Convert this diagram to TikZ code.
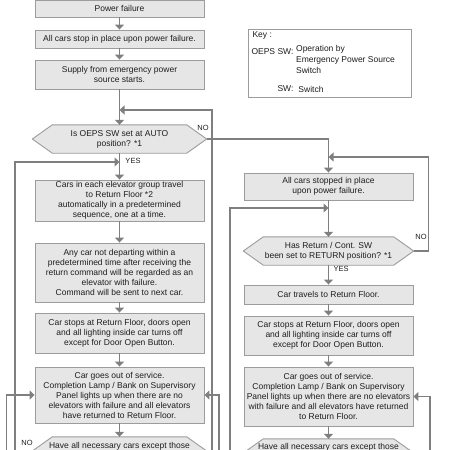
\documentclass[tikz,border=0pt]{standalone}
\usepackage{fontspec}
\setmainfont{Liberation Sans}
\usetikzlibrary{arrows.meta}
\pgfdeclarelayer{background}
\pgfsetlayers{background,main}
\definecolor{boxfill}{HTML}{E6E6E6}
\definecolor{boxedge}{HTML}{9C9C9C}
\definecolor{flowline}{HTML}{7F7F7F}
\definecolor{inktext}{HTML}{1E1E1E}

\begin{document}
\begin{tikzpicture}[x=1pt,y=-1pt,
		font=\fontsize{8.5}{10}\selectfont,
		every node/.style={text=inktext},
		box/.style={draw=boxedge,fill=boxfill,line width=0.9pt,minimum width=169pt,align=center,inner sep=1pt},
		query/.style={minimum height=28pt,align=center,inner sep=1pt},
		hexa/.style={draw=boxedge,fill=boxfill,line width=0.9pt,line join=round},
		flow/.style={draw=flowline,line width=1.3pt,-{Triangle[width=9pt,length=5pt]}},
		answer/.style={font=\fontsize{7.5}{9}\selectfont}]
			\useasboundingbox (0,0) rectangle (450,450);

			\node[box,minimum height=17pt] (pf) at (119.5,8.5) {Power failure};
			\node[box,minimum height=18pt] (stop) at (119.5,39) {All cars stop in place upon power failure.};
			\node[box,minimum height=29pt] (supply) at (119.5,74.5) {Supply from emergency power\\source starts.};
			\node[query,minimum width=174pt] (auto) at (119.5,139) {Is OEPS SW set at AUTO\\position? *1};
			\node[box,minimum height=41pt] (travel) at (119.5,200.5) {Cars in each elevator group travel\\to Return Floor *2\\automatically in a predetermined\\sequence, one at a time.};
			\node[box,minimum height=59pt] (fail) at (119.5,272.5) {Any car not departing within a\\predetermined time after receiving the\\return command will be regarded as an\\elevator with failure.\\Command will be sent to next car.};
			\node[box,minimum height=40pt] (doors) at (119.5,333) {Car stops at Return Floor, doors open\\and all lighting inside car turns off\\except for Door Open Button.};
			\node[box,minimum height=56pt] (outserv) at (119.5,395) {Car goes out of service.\\Completion Lamp / Bank on Supervisory\\Panel lights up when there are no\\elevators with failure and all elevators\\have returned to Return Floor.};
			\node[query,minimum width=174pt,text height=6pt,text depth=12pt] (allback) at (119.5,451) {Have all necessary cars except those};

			\node[box,minimum height=27pt] (stopped) at (328.5,186.5) {All cars stopped in place\\upon power failure.};
			\node[query,minimum width=170pt] (ret) at (328.5,251) {Has Return / Cont. SW\\been set to RETURN position? *1};
			\node[box,minimum height=19pt] (rtravel) at (328.5,294.5) {Car travels to Return Floor.};
			\node[box,minimum height=39pt] (rdoors) at (328.5,335.5) {Car stops at Return Floor, doors open\\and all lighting inside car turns off\\except for Door Open Button.};
			\node[box,minimum height=59pt] (rout) at (328.5,396.5) {Car goes out of service.\\Completion Lamp / Bank on Supervisory\\Panel lights up when there are no elevators\\with failure and all elevators have returned\\to Return Floor.};
			\node[query,minimum width=170pt,text height=6pt,text depth=14pt] (rback) at (328.5,453) {Have all necessary cars except those};

			\begin{pgfonlayer}{background}
				\foreach \q in {auto,allback,ret,rback}
					\draw[hexa] ([xshift=20pt]\q.north west) -- ([xshift=-20pt]\q.north east) -- (\q.east)
						-- ([xshift=-20pt]\q.south east) -- ([xshift=20pt]\q.south west) -- (\q.west) -- cycle;
			\end{pgfonlayer}

			\node[draw=boxedge,fill=white,line width=0.9pt,minimum width=163pt,minimum height=68pt] (key) at (329.5,63) {};
			\node[anchor=west] (keyhead) at (249,35) {Key :};
			\node[anchor=west] (oeps) at (248,52) {OEPS SW:};
			\node[anchor=north west,align=left,inner sep=0pt,font=\fontsize{8.5}{11}\selectfont] (oepstext) at ([xshift=-1pt]oeps.north east) {Operation by\\Emergency Power Source\\Switch};
			\node[anchor=east] (swkey) at (oeps.east |- 0,89) {SW:};
			\node[anchor=west] (swtext) at ([xshift=-2pt]swkey.east) {Switch};

			\draw[flow] (pf) -- (stop);
			\draw[flow] (stop) -- (supply);
			\draw[flow] (supply) -- (auto);
			\draw[flow] (auto) -- (travel);
			\draw[flow] (travel) -- (fail);
			\draw[flow] (fail) -- (doors);
			\draw[flow] (doors) -- (outserv);
			\draw[flow] (outserv) -- (allback);
			\draw[flow] (auto.east) -| (stopped.north);
			\node[answer] (no1) at (203,128) {NO};
			\node[answer] (yes1) at (133,161) {YES};

			\coordinate (backtop) at (212,470);
			\coordinate (jointop) at (119.5,110);
			\draw[flow] (backtop) |- (jointop);
			\coordinate (backyes) at (15,470);
			\coordinate (joinyes) at (119.5,162);
			\draw[flow] (backyes) |- (joinyes);
			\draw[flow] (allback.west) -- ++(-26,0) |- (outserv.west);
			\node[answer] (no2) at (27,443) {NO};
			\coordinate (backout) at (219,470);
			\draw[flow] (backout) |- (outserv.east);

			\draw[flow] (stopped) -- (ret);
			\draw[flow] (ret) -- (rtravel);
			\draw[flow] (rtravel) -- (rdoors);
			\draw[flow] (rdoors) -- (rout);
			\draw[flow] (rout) -- (rback);
			\coordinate (joinno) at (328.5,157);
			\draw[flow] (ret.east) -- ++(15,0) |- (joinno);
			\node[answer] (no3) at (421,237) {NO};
			\node[answer] (yes3) at (341,269) {YES};
			\coordinate (backr) at (230,470);
			\coordinate (joinr) at (328.5,208);
			\draw[flow] (backr) |- (joinr);
			\coordinate (backrout) at (430,470);
			\draw[flow] (backrout) |- (rout.east);
		\end{tikzpicture}
\end{document}
